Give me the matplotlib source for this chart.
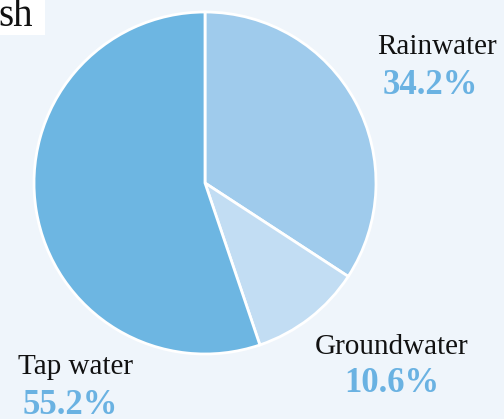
import matplotlib.pyplot as plt

labels = ["Rainwater", "Groundwater", "Tap water"]
shares = [34.2, 10.6, 55.2]
colors = ["#9fcbec", "#c2ddf3", "#6db6e2"]

W, H = 504, 419

fig = plt.figure(figsize=(W / 100, H / 100), dpi=100)
fig.patch.set_facecolor("#eff5fb")
ax = fig.add_axes([0, 0, 1, 1])

ax.pie(
    shares,
    colors=colors,
    startangle=90,
    counterclock=False,
    center=(205, H - 183),
    radius=171,
    wedgeprops=dict(edgecolor="white", linewidth=2),
    frame=True,
)
ax.set_xlim(0, W)
ax.set_ylim(0, H)
ax.set_aspect("equal")
ax.axis("off")

serif = "Liberation Serif"
pct_color = "#6ab2e2"

# label positions in pixel coords (from top)
name_pos = [(437, 47), (392, 347), (76, 367)]
pct_pos = [(430, 86), (392, 383), (70, 405)]

for lab, val, (nx, ny), (px, py) in zip(labels, shares, name_pos, pct_pos):
    ax.text(nx, H - ny, lab, ha="center", va="center", fontsize=21,
            family=serif, color="#111111")
    ax.text(px, H - py, f"{val}%", ha="center", va="center", fontsize=25,
            family=serif, fontweight="bold", color=pct_color)

ax.add_patch(plt.Rectangle((0, H - 35), 45, 35, facecolor="white",
                           edgecolor="none", zorder=3))
ax.text(-2, H - 26, "sh", ha="left", va="baseline", fontsize=28,
        family=serif, color="#111111", zorder=4)

fig.savefig("out.png", dpi=100, facecolor=fig.get_facecolor())
